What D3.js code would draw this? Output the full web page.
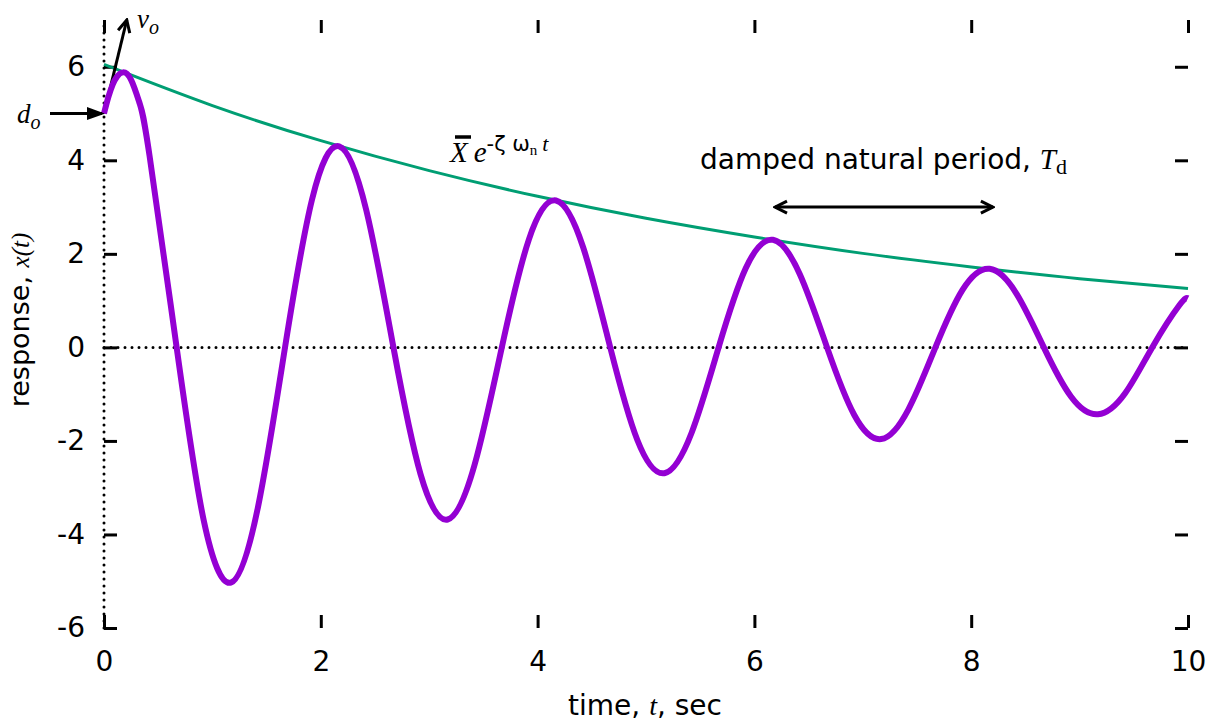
<html>
  <head>
    <script src="https://d3js.org/d3.v7.min.js"></script>
    <style>
      body { margin: 0; background: white; }
      .sans { font-family: "DejaVu Sans", sans-serif; }
      .serif { font-family: "Liberation Serif", "DejaVu Serif", serif; }
      .tick line { stroke: black; stroke-width: 3; }
      .tick text { font-family: "DejaVu Sans", sans-serif; font-size: 28px; fill: black; }
    </style>
  </head>
  <body>
    <script type="text/javascript">
      // response curve (t in sec, x in response units)
      var timeValues = [0, 0.04, 0.08, 0.12, 0.175, 0.25, 0.33, 0.42, 0.67, 0.92, 1.17, 1.42, 1.67, 1.92,
        2.17, 2.42, 2.67, 2.92, 3.17, 3.42, 3.67, 3.92, 4.17, 4.42, 4.67, 4.92, 5.17, 5.42, 5.67, 5.92,
        6.17, 6.42, 6.67, 6.92, 7.17, 7.42, 7.67, 7.92, 8.17, 8.42, 8.67, 8.92, 9.17, 9.42, 9.67, 9.92, 10];
      var responseValues = [5.0, 5.35, 5.62, 5.79, 5.88, 5.72, 5.21, 4.1, 0, -3.7, -5.03, -3.42, 0, 3.17,
        4.3, 2.93, 0, -2.71, -3.68, -2.5, 0, 2.31, 3.14, 2.14, 0, -1.98, -2.69, -1.83, 0, 1.69,
        2.3, 1.56, 0, -1.44, -1.96, -1.33, 0, 1.23, 1.68, 1.14, 0, -1.05, -1.43, -0.98, 0, 0.9, 1.05];

      // envelope
      var envelopeTimes = [0, 1, 2, 3, 4, 5, 6, 7, 8, 9, 10];
      var envelopeValues = [6.05, 5.17, 4.42, 3.78, 3.23, 2.76, 2.36, 2.01, 1.72, 1.47, 1.26];

      var xTicks = [0, 2, 4, 6, 8, 10];
      var yTicks = [-6, -4, -2, 0, 2, 4, 6];

      var width = 1211;
      var height = 724;

      var svg = d3.select("body").append("svg")
        .attr("width", width)
        .attr("height", height);

      var x = d3.scaleLinear().domain([0, 10]).range([104, 1188]);
      var y = d3.scaleLinear().domain([-6, 7]).range([628, 20]);

      var tickLen = 13;
      var plain = d => String(d);  // hyphen minus, like the original

      // ticks on all four sides (no border)
      var bottomAxis = d3.axisBottom(x).tickValues(xTicks).tickSize(-tickLen).tickPadding(23).tickFormat(plain);
      svg.append("g").attr("transform", "translate(0," + y(-6) + ")").call(bottomAxis);

      var topAxis = d3.axisTop(x).tickValues(xTicks).tickSize(-tickLen).tickFormat("");
      svg.append("g").attr("transform", "translate(0," + y(7) + ")").call(topAxis);

      var leftAxis = d3.axisLeft(y).tickValues(yTicks).tickSize(-tickLen).tickPadding(19).tickFormat(plain);
      svg.append("g").attr("transform", "translate(" + x(0) + ",0)").call(leftAxis);

      var rightAxis = d3.axisRight(y).tickValues(yTicks).tickSize(-tickLen).tickFormat("");
      svg.append("g").attr("transform", "translate(" + x(10) + ",0)").call(rightAxis);

      svg.selectAll(".domain").remove();

      // zero lines, dotted
      svg.append("line")
        .attr("x1", x(0)).attr("x2", x(10))
        .attr("y1", y(0)).attr("y2", y(0))
        .attr("stroke", "black").attr("stroke-width", 3)
        .attr("stroke-linecap", "round").attr("stroke-dasharray", "0,7");
      svg.append("line")
        .attr("x1", x(0)).attr("x2", x(0))
        .attr("y1", y(-6)).attr("y2", y(7))
        .attr("stroke", "black").attr("stroke-width", 3)
        .attr("stroke-linecap", "round").attr("stroke-dasharray", "0,7");

      // arrow heads
      var defs = svg.append("defs");
      defs.append("marker")
        .attr("id", "head")
        .attr("viewBox", "-14 -8 16 16")
        .attr("markerWidth", 16).attr("markerHeight", 16)
        .attr("markerUnits", "userSpaceOnUse")
        .attr("orient", "auto-start-reverse")
        .append("path")
        .attr("d", "M-12,-6 L0,0 L-12,6")
        .attr("fill", "none").attr("stroke", "black").attr("stroke-width", 3);
      defs.append("marker")
        .attr("id", "headFilled")
        .attr("viewBox", "-16 -8 18 16")
        .attr("markerWidth", 18).attr("markerHeight", 16)
        .attr("markerUnits", "userSpaceOnUse")
        .attr("orient", "auto")
        .append("path")
        .attr("d", "M-14,-5 L0,0 L-14,5 Z")
        .attr("fill", "black").attr("stroke", "black").attr("stroke-width", 2);

      // envelope line
      var envData = envelopeTimes.map(function (t, i) { return [t, envelopeValues[i]]; });
      svg.append("path")
        .datum(envData)
        .attr("fill", "none")
        .attr("stroke", "#009e73")
        .attr("stroke-width", 3)
        .attr("d", d3.line().x(d => x(d[0])).y(d => y(d[1])).curve(d3.curveNatural));

      // v_o arrow (drawn under the response)
      svg.append("line")
        .attr("x1", x(0)).attr("y1", y(5))
        .attr("x2", x(0.21)).attr("y2", y(7.0))
        .attr("stroke", "black").attr("stroke-width", 3)
        .attr("marker-end", "url(#head)");

      // response curve
      var respData = timeValues.map(function (t, i) { return [t, responseValues[i]]; });
      svg.append("path")
        .datum(respData)
        .attr("fill", "none")
        .attr("stroke", "#9400d3")
        .attr("stroke-width", 6)
        .attr("stroke-linejoin", "round")
        .attr("d", d3.line().x(d => x(d[0])).y(d => y(d[1])).curve(d3.curveNatural));

      // d_o arrow
      svg.append("line")
        .attr("x1", 50).attr("y1", y(5))
        .attr("x2", x(0) - 2).attr("y2", y(5))
        .attr("stroke", "black").attr("stroke-width", 3)
        .attr("marker-end", "url(#headFilled)");

      // damped period arrow
      svg.append("line")
        .attr("x1", x(6.19)).attr("y1", y(3.0))
        .attr("x2", x(8.2)).attr("y2", y(3.0))
        .attr("stroke", "black").attr("stroke-width", 3)
        .attr("marker-start", "url(#head)")
        .attr("marker-end", "url(#head)");

      // labels
      var dLabel = svg.append("text").attr("class", "serif").attr("x", 17).attr("y", 123)
        .attr("font-size", 27).attr("font-style", "italic");
      dLabel.append("tspan").text("d");
      dLabel.append("tspan").attr("font-size", 20).attr("dy", 6).text("o");

      var vLabel = svg.append("text").attr("class", "serif").attr("x", 137).attr("y", 28)
        .attr("font-size", 27).attr("font-style", "italic");
      vLabel.append("tspan").text("v");
      vLabel.append("tspan").attr("font-size", 20).attr("dy", 6).text("o");

      // envelope label
      var envLabel = svg.append("text").attr("x", 450).attr("y", 162);
      envLabel.append("tspan").attr("class", "serif").attr("font-style", "italic")
        .attr("font-size", 29).text("X");
      envLabel.append("tspan").attr("class", "serif").attr("font-style", "italic")
        .attr("font-size", 29).attr("dx", 6).text("e");
      envLabel.append("tspan").attr("class", "sans").attr("font-size", 21).attr("dy", -11).text("-ζ ω");
      envLabel.append("tspan").attr("class", "serif").attr("font-size", 15).attr("dy", 4).text("n");
      envLabel.append("tspan").attr("class", "serif").attr("font-style", "italic")
        .attr("font-size", 22).attr("dx", 5).attr("dy", -4).text("t");
      svg.append("line")
        .attr("x1", 455).attr("x2", 471)
        .attr("y1", 137).attr("y2", 137)
        .attr("stroke", "black").attr("stroke-width", 3.5);

      var periodLabel = svg.append("text").attr("x", 700).attr("y", 169);
      periodLabel.append("tspan").attr("class", "sans").attr("font-size", 28).text("damped natural period, ");
      periodLabel.append("tspan").attr("class", "serif").attr("font-style", "italic")
        .attr("font-size", 29).text("T");
      periodLabel.append("tspan").attr("class", "serif").attr("font-size", 22).attr("dy", 5).text("d");

      // axis titles
      var xTitle = svg.append("text").attr("x", 645).attr("y", 715).attr("text-anchor", "middle");
      xTitle.append("tspan").attr("class", "sans").attr("font-size", 28).text("time, ");
      xTitle.append("tspan").attr("class", "serif").attr("font-style", "italic").attr("font-size", 28).text("t");
      xTitle.append("tspan").attr("class", "sans").attr("font-size", 28).text(", sec");

      var yTitle = svg.append("text")
        .attr("transform", "translate(29,320) rotate(-90)")
        .attr("text-anchor", "middle");
      yTitle.append("tspan").attr("class", "sans").attr("font-size", 27).text("response, ");
      yTitle.append("tspan").attr("class", "serif").attr("font-style", "italic").attr("font-size", 25).text("x(t)");
    </script>
  </body>
</html>
